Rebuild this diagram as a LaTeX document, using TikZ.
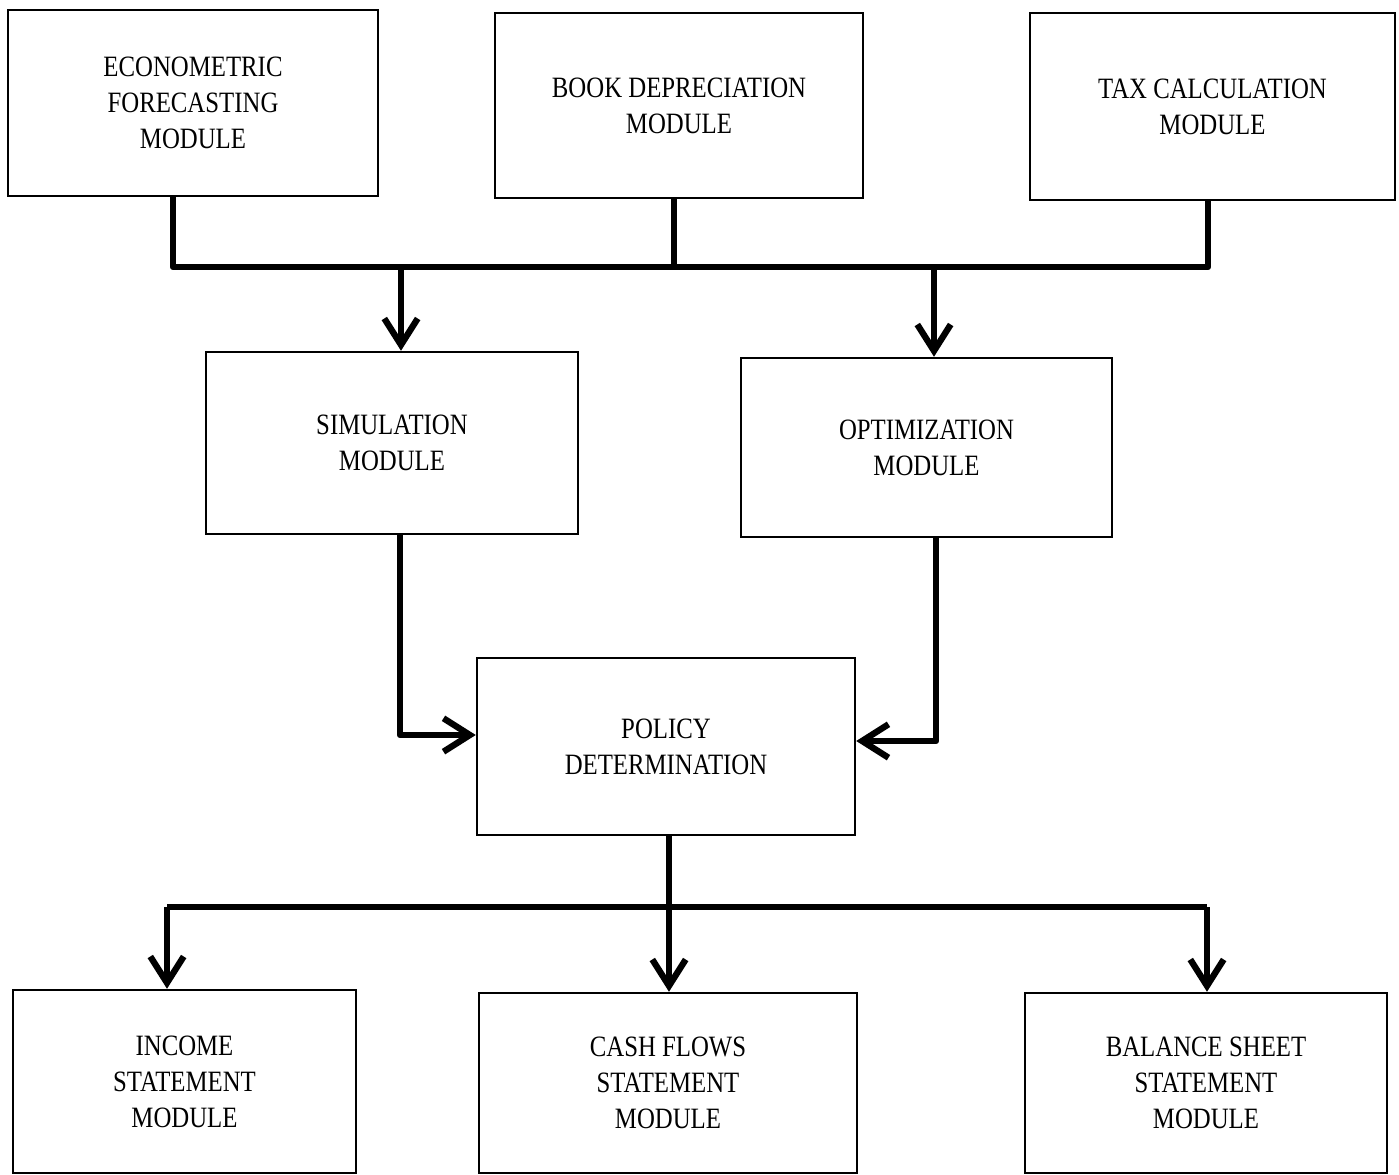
\documentclass[tikz,border=0pt]{standalone}
\usepackage{fontspec}
\setmainfont{Liberation Serif}[FakeStretch=0.84]
\usetikzlibrary{arrows.meta}

\begin{document}
\begin{tikzpicture}[>={Straight Barb[length=7.5pt, width=9.5pt]}]

\tikzset{
  box/.style={draw, line width=0.7pt, align=center, inner sep=0pt,
    font=\fontsize{8.4}{10.24}\selectfont},
  bus/.style={line width=1.8pt, line join=round},
  arr/.style={->, line width=1.8pt, line join=round}
}

\useasboundingbox (0,0) rectangle (13.99,-11.75);

% --- Modulos de entrada ---
\node[box, minimum width=3.70cm, minimum height=1.86cm] (econ) at (1.93,-1.03) {ECONOMETRIC\\FORECASTING\\MODULE};
\node[box, minimum width=3.68cm, minimum height=1.85cm] (book) at (6.79,-1.055) {BOOK DEPRECIATION\\MODULE};
\node[box, minimum width=3.65cm, minimum height=1.87cm] (tax) at (12.125,-1.065) {TAX CALCULATION\\MODULE};

% --- Modulos intermediarios ---
\node[box, minimum width=3.72cm, minimum height=1.82cm] (sim) at (3.92,-4.43) {SIMULATION\\MODULE};
\node[box, minimum width=3.71cm, minimum height=1.79cm] (opt) at (9.265,-4.475) {OPTIMIZATION\\MODULE};

% --- Politica ---
\node[box, minimum width=3.78cm, minimum height=1.77cm] (pol) at (6.66,-7.465) {POLICY\\DETERMINATION};

% --- Demonstrativos ---
\node[box, minimum width=3.43cm, minimum height=1.83cm] (inc) at (1.845,-10.815) {INCOME\\STATEMENT\\MODULE};
\node[box, minimum width=3.78cm, minimum height=1.80cm] (cash) at (6.68,-10.83) {CASH FLOWS\\STATEMENT\\MODULE};
\node[box, minimum width=3.62cm, minimum height=1.80cm] (bal) at (12.06,-10.83) {BALANCE SHEET\\STATEMENT\\MODULE};

% --- Pontos do barramento ---
\coordinate (bL) at (1.73,-2.67);
\coordinate (bM) at (6.74,-2.67);
\coordinate (bR) at (12.08,-2.67);
\coordinate (aS) at (4.01,-2.67);
\coordinate (aO) at (9.34,-2.67);
\coordinate (cS) at (4.00,-7.35);
\coordinate (cO) at (9.36,-7.41);
\coordinate (dL) at (1.67,-9.07);
\coordinate (dM) at (6.69,-9.07);
\coordinate (dR) at (12.07,-9.07);

% --- Setas ---
\draw[bus] (econ.south -| bL) -- (bL) -- (bR) -- (tax.south -| bR);
\draw[bus] (book.south -| bM) -- (bM);

\draw[arr] (aS) -- (sim.north -| aS);
\draw[arr] (aO) -- (opt.north -| aO);

\draw[arr] (sim.south -| cS) -- (cS) -- (pol.west |- cS);
\draw[arr] (opt.south -| cO) -- (cO) -- (pol.east |- cO);

\draw[bus] (pol.south -| dM) -- (dM);
\draw[bus] (dL) -- (dR);
\draw[arr] (dL) -- (inc.north -| dL);
\draw[arr] (dM) -- (cash.north -| dM);
\draw[arr] (dR) -- (bal.north -| dR);

\end{tikzpicture}
\end{document}
